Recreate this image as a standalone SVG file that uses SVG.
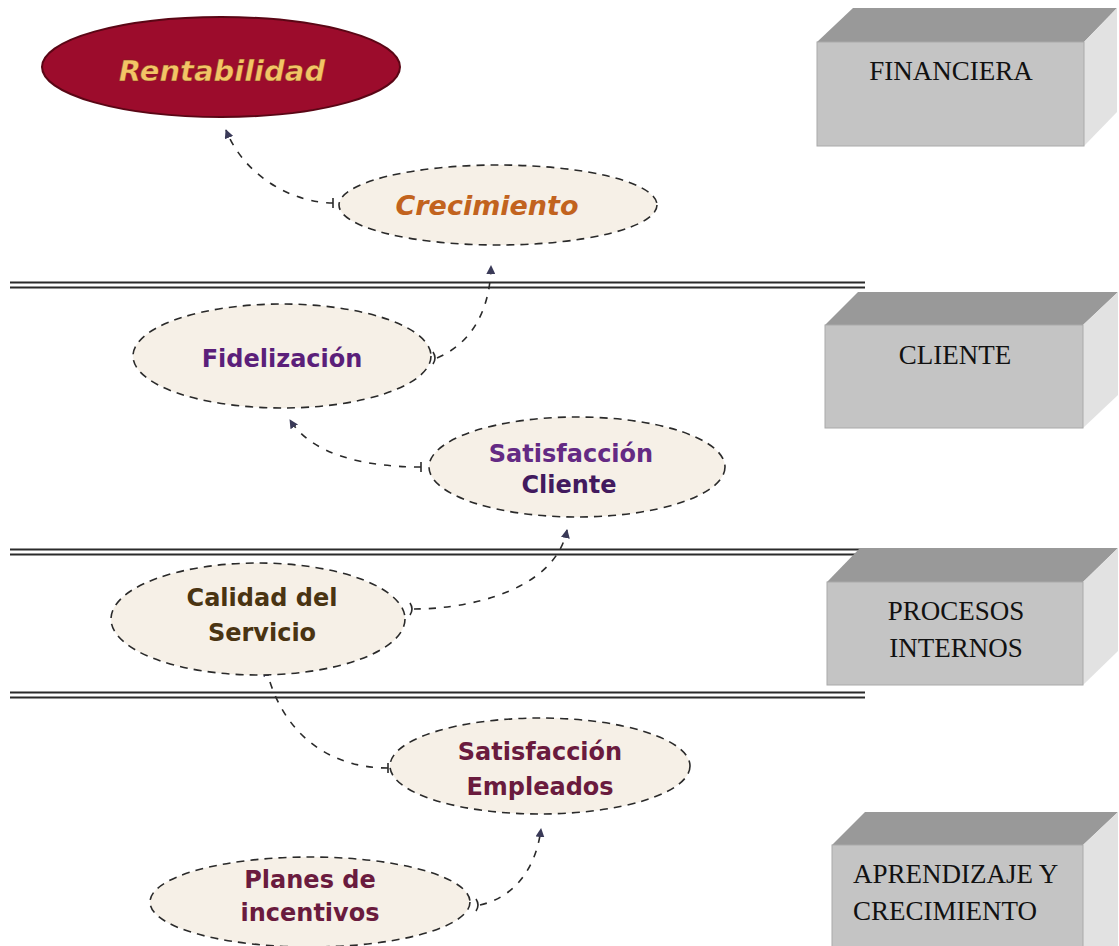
<svg xmlns="http://www.w3.org/2000/svg" width="1119" height="946" viewBox="0 0 1119 946">
<defs>
<style>
.node{fill:#f6f0e7;stroke:#2a2a2a;stroke-width:1.6;stroke-dasharray:8 6}
.lbl{font-family:"DejaVu Sans",Verdana,sans-serif;font-weight:bold;font-size:24px;text-anchor:middle}
.conn{fill:none;stroke:#2a2a2a;stroke-width:1.6;stroke-dasharray:7 8}
.tail{fill:none;stroke:#2a2a2a;stroke-width:1.6}
.sep{stroke:#2b2b2b;stroke-width:2.2}
.top{fill:#999999}
.front{fill:#c4c4c4;stroke:#aaaaaa;stroke-width:1}
.side{fill:#e2e2e2}
.box{font-family:"Liberation Serif","Times New Roman",serif;font-size:27px;fill:#111}
</style>
<marker id="ah" viewBox="0 0 10 10" refX="9" refY="5" markerWidth="9" markerHeight="9" markerUnits="userSpaceOnUse" orient="auto">
<path d="M0,0 L10,5 L0,10 Z" fill="#3a3a58"/>
</marker>
</defs>
<rect width="1119" height="946" fill="#ffffff"/>

<g id="separators">
<line class="sep" x1="10" y1="282.5" x2="865" y2="282.5"/>
<line class="sep" x1="10" y1="287.5" x2="865" y2="287.5"/>
<line class="sep" x1="10" y1="549.5" x2="865" y2="549.5"/>
<line class="sep" x1="10" y1="554.5" x2="865" y2="554.5"/>
<line class="sep" x1="10" y1="692.5" x2="865" y2="692.5"/>
<line class="sep" x1="10" y1="697.5" x2="865" y2="697.5"/>
</g>

<g id="box-financiera">
<polygon class="top" points="817,42 853,8 1117,8 1084,42"/>
<polygon class="side" points="1084,42 1117,8 1117,112 1084,146"/>
<rect class="front" x="817" y="42" width="267" height="104"/>
<text class="box" x="951" y="80" text-anchor="middle">FINANCIERA</text>
</g>
<g id="box-cliente">
<polygon class="top" points="825,325 858,292 1118,292 1083,325"/>
<polygon class="side" points="1083,325 1118,292 1118,395 1083,428"/>
<rect class="front" x="825" y="325" width="258" height="103"/>
<text class="box" x="955" y="364" text-anchor="middle">CLIENTE</text>
</g>
<g id="box-procesos">
<polygon class="top" points="827,582 860,548 1118,548 1083,582"/>
<polygon class="side" points="1083,582 1118,548 1118,651 1083,685"/>
<rect class="front" x="827" y="582" width="256" height="103"/>
<text class="box" x="956" y="620" text-anchor="middle">PROCESOS</text>
<text class="box" x="956" y="657" text-anchor="middle">INTERNOS</text>
</g>
<g id="box-aprendizaje">
<polygon class="top" points="832,845 865,812 1118,812 1083,845"/>
<polygon class="side" points="1083,845 1118,812 1118,946 1083,946"/>
<rect class="front" x="832" y="845" width="251" height="110"/>
<text class="box" x="853" y="883">APRENDIZAJE Y</text>
<text class="box" x="853" y="920">CRECIMIENTO</text>
</g>

<g id="connectors">
<path class="conn" d="M333,203 C295,203 245,178 226,130" marker-end="url(#ah)"/>
<path class="tail" d="M333,198 L333,208"/>
<path class="conn" d="M437,358 C468,345 490,315 491,266" marker-end="url(#ah)"/>
<path class="tail" d="M433,352 Q437,358 433,364"/>
<path class="conn" d="M421,467 C365,467 312,455 290,420" marker-end="url(#ah)"/>
<path class="tail" d="M421,462 L421,472"/>
<path class="conn" d="M414,609 C470,609 555,590 567,530" marker-end="url(#ah)"/>
<path class="tail" d="M410,603 Q414,609 410,615"/>
<path class="conn" d="M388,768 C330,768 282,735 266,668" marker-end="url(#ah)"/>
<path class="tail" d="M388,763 L388,773"/>
<path class="conn" d="M480,905 C515,897 536,868 541,829" marker-end="url(#ah)"/>
<path class="tail" d="M476,899 Q480,905 476,911"/>
</g>

<g id="node-rentabilidad">
<ellipse cx="221" cy="67" rx="179" ry="50" fill="#9c0c2c" stroke="#5a0615" stroke-width="2"/>
<text x="222" y="81" font-family="'DejaVu Sans',Verdana,sans-serif" font-weight="bold" font-style="italic" font-size="29" text-anchor="middle" fill="#f3c466" stroke="#7a2a10" stroke-width="0.4">Rentabilidad</text>
</g>
<g id="node-crecimiento">
<ellipse class="node" cx="498" cy="205" rx="159" ry="40"/>
<text x="487" y="215" font-family="'DejaVu Sans',Verdana,sans-serif" font-weight="bold" font-style="italic" font-size="27" text-anchor="middle" fill="#c2631e">Crecimiento</text>
</g>
<g id="node-fidelizacion">
<ellipse class="node" cx="282" cy="356" rx="149" ry="52"/>
<text class="lbl" x="282" y="367" fill="#5b1f7a">Fidelización</text>
</g>
<g id="node-satcliente">
<ellipse class="node" cx="577" cy="467" rx="148" ry="50"/>
<text class="lbl" x="571" y="462" fill="#642a84">Satisfacción</text>
<text class="lbl" x="569" y="493" fill="#421a5e">Cliente</text>
</g>
<g id="node-calidad">
<ellipse class="node" cx="258" cy="619" rx="147" ry="56"/>
<text class="lbl" x="262" y="606" fill="#4a3412">Calidad del</text>
<text class="lbl" x="262" y="641" fill="#4a3412">Servicio</text>
</g>
<g id="node-satempleados">
<ellipse class="node" cx="540" cy="766" rx="150" ry="48"/>
<text class="lbl" x="540" y="760" fill="#6a1b3e">Satisfacción</text>
<text class="lbl" x="540" y="795" fill="#6a1b3e">Empleados</text>
</g>
<g id="node-planes">
<ellipse class="node" cx="310" cy="902" rx="160" ry="45"/>
<text class="lbl" x="310" y="888" fill="#6a1b3e">Planes de</text>
<text class="lbl" x="310" y="921" fill="#6a1b3e">incentivos</text>
</g>
</svg>
